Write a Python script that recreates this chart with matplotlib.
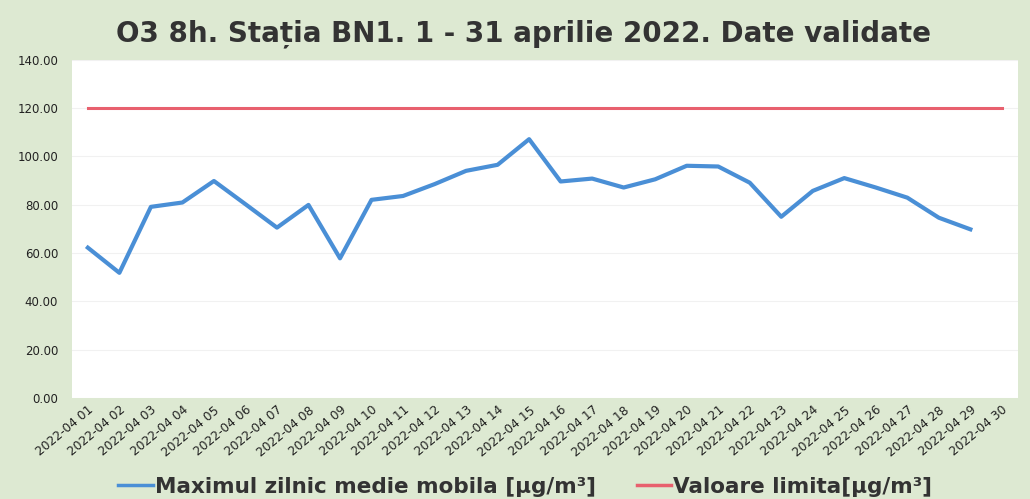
import matplotlib
matplotlib.use("Agg")
import matplotlib.pyplot as plt
from matplotlib.transforms import ScaledTranslation

dates = [f"2022-04 {d:02d}" for d in range(1, 31)]
o3_max = [62.2, 51.8, 79.1, 80.9, 89.8, 80.2, 70.5, 79.9, 57.8, 82.0,
          83.6, 88.5, 94.0, 96.5, 107.1, 89.6, 90.8, 87.1, 90.5, 96.1,
          95.8, 89.1, 75.0, 85.7, 91.0, 87.1, 82.9, 74.6, 69.8]
limit = [120.0] * 30
yticks = [0, 20, 40, 60, 80, 100, 120, 140]

plt.rcParams['font.family'] = ['DejaVu Sans']

fig = plt.figure(figsize=(10.30, 4.99), dpi=100)
fig.patch.set_facecolor('#dde9d2')
ax = fig.add_axes([0.070, 0.2024, 0.918, 0.678])
ax.set_facecolor('white')

x_all = list(range(len(dates)))
ax.plot(x_all[:len(o3_max)], o3_max, color='#4a8fd6', lw=3, solid_joinstyle='round',
        label='Maximul zilnic medie mobila [µg/m³]')
ax.plot(x_all, limit, color='#e8606e', lw=2.2, label='Valoare limita[µg/m³]')

ax.set_xlim(-0.5, len(dates) - 0.5)
ax.set_ylim(0, 140)
ax.set_yticks(yticks)
ax.set_yticklabels([f"{v:.2f}" for v in yticks], fontsize=8.5, color='#222222')
ax.set_xticks(x_all)
ax.set_xticklabels(dates, rotation=40, ha='right', rotation_mode='anchor',
                   fontsize=8.8, color='#222222')
off = ScaledTranslation(5 / 100, 0, fig.dpi_scale_trans)
for lbl in ax.get_xticklabels():
    lbl.set_transform(lbl.get_transform() + off)
ax.tick_params(axis='both', length=0)
ax.tick_params(axis='y', pad=10)
ax.tick_params(axis='x', pad=4)
ax.grid(axis='y', color='#f1f1f1', lw=0.8)
ax.set_axisbelow(True)
for s in ax.spines.values():
    s.set_visible(False)

fig.suptitle('O3 8h. Stația BN1. 1 - 31 aprilie 2022. Date validate',
             fontsize=20, fontweight='bold', color='#333333', x=0.508, y=0.962)

leg = fig.legend(loc='center', bbox_to_anchor=(0.51, 0.025), ncol=2, frameon=False,
                 prop={'weight': 'bold', 'size': 15.5}, handlelength=1.6,
                 handletextpad=0.1, columnspacing=1.9)
for t in leg.get_texts():
    t.set_color('#333333')
for h in leg.legend_handles:
    h.set_linewidth(2.5)

fig.savefig('out.png', dpi=100, facecolor=fig.get_facecolor())
